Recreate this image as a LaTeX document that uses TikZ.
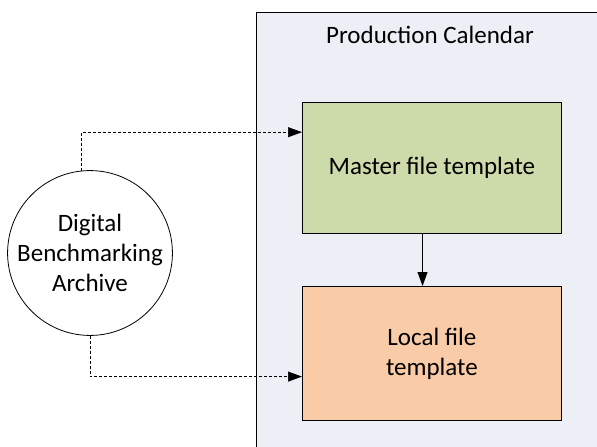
\documentclass[tikz,border=0pt]{standalone}
\usepackage{fontspec}
\setmainfont{Carlito}
\usetikzlibrary{arrows.meta,calc}
\definecolor{contfill}{HTML}{ECEFF5}
\definecolor{greenfill}{HTML}{CDDBAA}
\definecolor{orangefill}{HTML}{F9CBA6}
\tikzset{
  box/.style={draw=black, line width=0.8pt, minimum width=259pt, minimum height=131pt, anchor=north west, inner sep=0pt, align=center, font=\fontsize{25}{30}\selectfont},
  dashconn/.style={draw=black, line width=0.7pt, dash pattern=on 3pt off 2pt, -{Triangle[length=14pt,width=10pt]}},
  solidconn/.style={draw=black, line width=0.8pt, -{Triangle[length=14pt,width=10pt]}},
}
\begin{document}
\begin{tikzpicture}[x=1pt,y=-1pt]
\useasboundingbox (0,0) rectangle (597,447);
\fill[white] (0,0) rectangle (597,447);
\fill[contfill] (256,12) rectangle (600,450);
\draw[line width=0.8pt] (600,12) -- (256,12) -- (256,450);
\node[font=\fontsize{25}{30}\selectfont] (title) at (430,35) {Production Calendar};
\node[box, fill=greenfill] (master) at (302,102) {Master file template};
\node[box, fill=orangefill, minimum height=134pt] (local) at (302,286) {Local file\\template};
\node[draw=black, line width=0.8pt, circle, minimum size=162pt, inner sep=0pt, align=center, font=\fontsize{25}{30}\selectfont] (dba) at (90,253) {Digital\\Benchmarking\\Archive};
\coordinate (mtarget) at ($(master.north west)!0.229!(master.south west)$);
\coordinate (ltarget) at ($(local.north west)!0.672!(local.south west)$);
\coordinate (msrc) at ($(master.south west)!0.464!(master.south east)$);
\draw[solidconn] (msrc) -- (msrc |- local.north);
\draw[dashconn] (dba.96) |- (mtarget);
\draw[dashconn] (dba.south) |- (ltarget);
\end{tikzpicture}
\end{document}
